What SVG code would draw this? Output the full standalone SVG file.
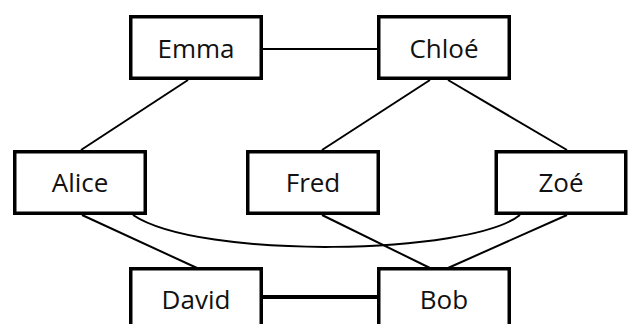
<svg xmlns="http://www.w3.org/2000/svg" width="632" height="324" viewBox="0 0 632 324">
<style>
.box{fill:#fff;stroke:#000;stroke-width:3.5}
.lbl{font-family:"Open Sans","Noto Sans",sans-serif;font-size:26px;fill:#111;text-anchor:middle}
.e{fill:none;stroke:#000;stroke-width:2}
.thick{stroke-width:4}
</style>
<rect width="632" height="324" fill="#fff"/>
<g id="connectors">
<path class="e" d="M263,49 H377"/>
<path class="e" d="M188,80 L81,150"/>
<path class="e" d="M430,80 L322,150"/>
<path class="e" d="M448,80 L567,150"/>
<path class="e" d="M82,215 L197,268"/>
<path class="e" d="M322,215 L430,268"/>
<path class="e" d="M567,215 L448,268"/>
<path class="e" d="M133,215 C200,260 470,255 520,215"/>
<path class="e thick" d="M262,297 H378"/>
</g>
<g id="Emma"><rect class="box" x="130.75" y="16.75" width="130.5" height="61.5"/><text class="lbl" x="196" y="57.5">Emma</text></g>
<g id="Chloe"><rect class="box" x="378.75" y="16.75" width="130.5" height="61.5"/><text class="lbl" x="444" y="57.5">Chloé</text></g>
<g id="Alice"><rect class="box" x="14.75" y="151.75" width="130.5" height="61.5"/><text class="lbl" x="80" y="192">Alice</text></g>
<g id="Fred"><rect class="box" x="247.75" y="151.75" width="130.5" height="61.5"/><text class="lbl" x="313" y="192">Fred</text></g>
<g id="Zoe"><rect class="box" x="496.25" y="151.75" width="129.5" height="61.5"/><text class="lbl" x="561" y="192">Zoé</text></g>
<g id="David"><rect class="box" x="130.75" y="268.75" width="130.5" height="61.5"/><text class="lbl" x="196" y="309">David</text></g>
<g id="Bob"><rect class="box" x="378.75" y="268.75" width="130.5" height="61.5"/><text class="lbl" x="444" y="309">Bob</text></g>
</svg>
